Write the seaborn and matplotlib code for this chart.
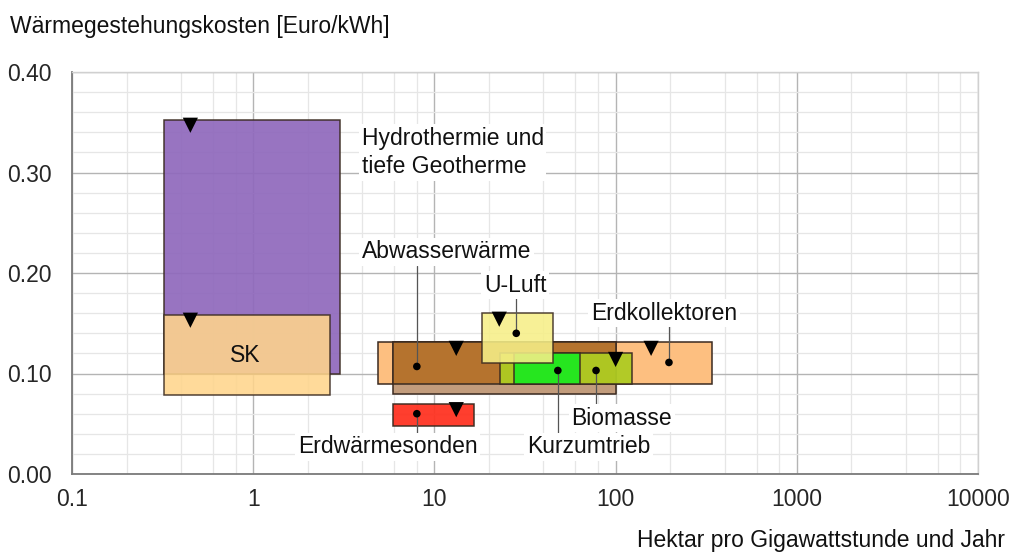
import numpy as np
import pandas as pd
import matplotlib
matplotlib.use("Agg")
import matplotlib.pyplot as plt
import seaborn as sns

# ---------------- data ----------------
names = ["Hydrothermie", "SK", "Erdkollektoren", "Abwasserwärme",
         "Biomasse", "Kurzumtrieb", "U-Luft", "Erdwärmesonden"]
x_lo = [0.32, 0.32, 4.9, 5.9, 23.0, 27.5, 18.2, 5.9]
x_hi = [3.0, 2.65, 340.0, 100.0, 123.0, 64.0, 45.0, 16.5]
y_lo = [0.100, 0.079, 0.090, 0.080, 0.090, 0.090, 0.110, 0.048]
y_hi = [0.352, 0.158, 0.131, 0.131, 0.120, 0.120, 0.160, 0.070]

dot_x = [np.nan, np.nan, 197.0, 8.0, 78.0, 48.0, 28.3, 8.0]
dot_y = [np.nan, np.nan, 0.111, 0.107, 0.103, 0.103, 0.140, 0.060]
tri_x = [0.45, 0.45, 157.0, 13.2, 100.0, np.nan, 22.8, 13.2]
tri_y = [0.347, 0.153, 0.125, 0.125, 0.114, np.nan, 0.154, 0.064]

label_texts = ["Hydrothermie und\ntiefe Geotherme", "SK", "Erdkollektoren",
               "Abwasserwärme", "Biomasse", "Kurzumtrieb", "U-Luft",
               "Erdwärmesonden"]
x_ticks = [0.1, 1, 10, 100, 1000, 10000]
x_ticklabels = ["0.1", "1", "10", "100", "1000", "10000"]
y_ticks = [0.0, 0.1, 0.2, 0.3, 0.4]
y_ticklabels = ["0.00", "0.10", "0.20", "0.30", "0.40"]
y_title = "Wärmegestehungskosten [Euro/kWh]"
x_title = "Hektar pro Gigawattstunde und Jahr"

# ---------------- style ----------------
colors = {"Hydrothermie": "#8f68bc", "SK": "#ffd58c", "Erdkollektoren": "#fdbf80",
          "Abwasserwärme": "#c29c7c", "Biomasse": "#aecb22", "Kurzumtrieb": "#1fe81f",
          "U-Luft": "#f6ef88", "Erdwärmesonden": "#ff3322"}
alphas = {"Hydrothermie": 0.92, "SK": 0.88, "Erdkollektoren": 1.0,
          "Abwasserwärme": 1.0, "Biomasse": 0.95, "Kurzumtrieb": 0.95,
          "U-Luft": 0.88, "Erdwärmesonden": 0.95}
overlap_color = "#b5732e"   # brown over orange

sns.set_style("white")
plt.rcParams["font.family"] = ["Liberation Sans", "DejaVu Sans"]
FS = 16.5

fig = plt.figure(figsize=(10.13, 5.56), dpi=100)
ax = fig.add_axes([72/1013, 1-474/556, (978-72)/1013, (474-72)/556])
ax.set_xscale("log")
ax.set_xlim(0.1, 10000)
ax.set_ylim(0, 0.4)

# grid
ax.set_xticks(x_ticks)
ax.set_xticks([m * 10.0**e for e in range(-1, 4) for m in (2, 4, 6, 8)], minor=True)
ax.set_yticks(y_ticks)
ax.set_yticks(np.arange(0.02, 0.4, 0.02), minor=True)
ax.grid(which="major", color="#b4b4b4", lw=1.0, zorder=0)
ax.grid(which="minor", color="#e6e6e6", lw=0.9, zorder=0)
ax.set_axisbelow(True)
ax.tick_params(which="both", length=0, labelsize=FS)
ax.set_xticklabels(x_ticklabels)
ax.set_yticklabels(y_ticklabels)
ax.tick_params(axis="x", pad=10)
ax.tick_params(axis="y", pad=14.4)
for s in ["left", "bottom"]:
    ax.spines[s].set_color("#7a7a7a")
    ax.spines[s].set_linewidth(1.3)
for s in ["top", "right"]:
    ax.spines[s].set_color("#d0d0d0")
    ax.spines[s].set_linewidth(1.0)

# rectangles
z = 2
for i, n in enumerate(names):
    ax.bar(x_lo[i], y_hi[i] - y_lo[i], width=x_hi[i] - x_lo[i], bottom=y_lo[i],
           align="edge", color=colors[n], alpha=alphas[n],
           edgecolor="#3a2a20", linewidth=1.1, zorder=z)
    z += 0.1
    if n == "Abwasserwärme":
        j = names.index("Erdkollektoren")
        ox0, ox1 = max(x_lo[i], x_lo[j]), min(x_hi[i], x_hi[j])
        oy0, oy1 = max(y_lo[i], y_lo[j]), min(y_hi[i], y_hi[j])
        ax.bar(ox0, oy1 - oy0, width=ox1 - ox0, bottom=oy0, align="edge",
               color=overlap_color, edgecolor="#3a2a20", linewidth=1.1, zorder=z)
        z += 0.1

# leader lines (from dot to label)
leader_end = {"Erdkollektoren": 0.150, "Abwasserwärme": 0.207, "Biomasse": 0.069,
              "Kurzumtrieb": 0.037, "U-Luft": 0.176, "Erdwärmesonden": 0.037}
for i, n in enumerate(names):
    if n in leader_end:
        ax.plot([dot_x[i], dot_x[i]], [dot_y[i], leader_end[n]],
                color="#555555", lw=0.9, zorder=4)

# markers via seaborn
df_dot = pd.DataFrame({"x": dot_x, "y": dot_y}).dropna()
df_tri = pd.DataFrame({"x": tri_x, "y": tri_y}).dropna()
sns.scatterplot(data=df_dot, x="x", y="y", ax=ax, color="black", s=30,
                marker="o", edgecolor="none", zorder=5)
sns.scatterplot(data=df_tri, x="x", y="y", ax=ax, color="black", s=120,
                marker="v", edgecolor="none", zorder=5)
ax.set_xlabel("")
ax.set_ylabel("")

# labels
label_pos = {"Hydrothermie": (3.96, 0.320, "left"),
             "SK": (0.90, 0.118, "center"),
             "Erdkollektoren": (73.0, 0.160, "left"),
             "Abwasserwärme": (3.96, 0.221, "left"),
             "Biomasse": (57.0, 0.0557, "left"),
             "Kurzumtrieb": (32.5, 0.0269, "left"),
             "U-Luft": (18.8, 0.188, "left"),
             "Erdwärmesonden": (1.76, 0.0269, "left")}
for i, n in enumerate(names):
    x, y, ha = label_pos[n]
    kw = {}
    if n != "SK":
        kw["bbox"] = dict(facecolor="white", edgecolor="none", pad=2)
    ax.text(x, y, label_texts[i], ha=ha, va="center", fontsize=FS,
            color="#111111", linespacing=1.3, zorder=6, **kw)

fig.text(10/1013, 1-27/556, y_title, ha="left", va="center", fontsize=FS, color="#111111")
fig.text(1005/1013, 1-541/556, x_title, ha="right", va="center", fontsize=FS, color="#111111")

fig.savefig("out.png", dpi=100)
